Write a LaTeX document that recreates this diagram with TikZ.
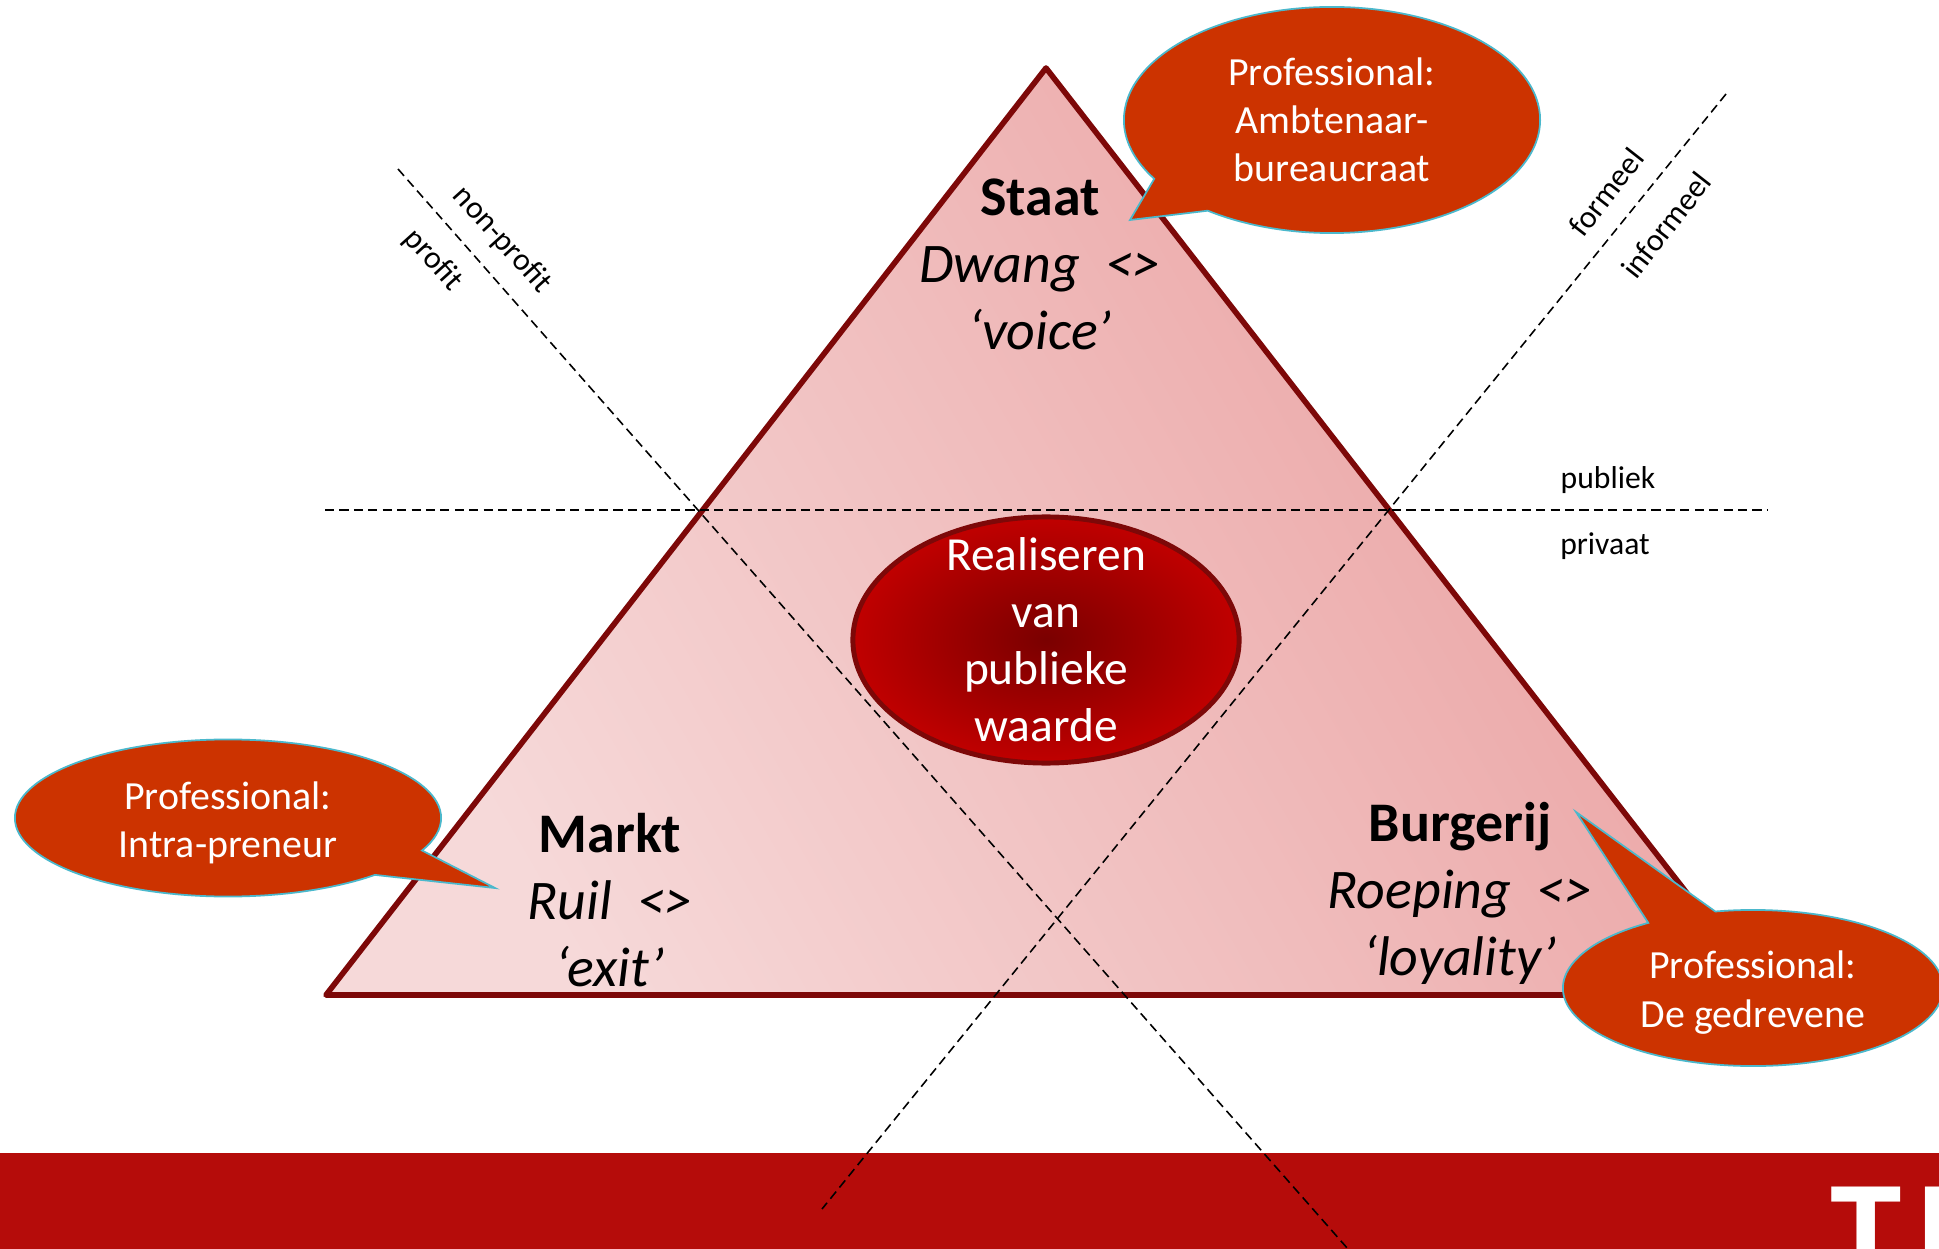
\documentclass[tikz,border=0pt]{standalone}
\usepackage{fontspec}
\setmainfont{Carlito}
\usetikzlibrary{positioning, shapes.callouts, shapes.geometric}
\definecolor{darkred}{HTML}{7D0808}
\definecolor{barred}{HTML}{B50C0A}
\definecolor{calloutred}{HTML}{CC3300}
\definecolor{calloutline}{HTML}{4BB8CC}
\tikzset{node distance=0.67cm,
  every edge/.style={draw,dashed,dash pattern=on 2.6pt off 1.5pt,line width=0.45pt,black},
  sector/.style={inner sep=0pt,text height=12pt,text depth=4pt,font=\fontsize{15.9}{18}\selectfont\bfseries},
  relation/.style={inner sep=0pt,text height=12pt,text depth=4pt,font=\fontsize{15.9}{18}\selectfont\itshape},
  professional/.style={ellipse callout,callout pointer arc=22,draw=calloutline,line width=0.5pt,fill=calloutred,text=white,align=center,inner sep=0pt,font=\fontsize{11.35}{13.7}\selectfont},
  axislabel/.style={inner sep=0pt,font=\fontsize{9}{11}\selectfont}}

\begin{document}
\begin{tikzpicture}[x=0.01cm,y=-0.01cm]
    \useasboundingbox (0,0) rectangle (1939,1249);
    % triangle
    \coordinate (t1) at (1046,68);
    \coordinate (t2) at (1766,995);
    \coordinate (t3) at (326,995);
    \definecolor{lightpink}{HTML}{F6D9D9}
    \definecolor{darkpink}{HTML}{EAA0A0}
    \shade[left color=lightpink, right color=darkpink, shading angle=120] (t1) -- (t2) -- (t3) -- cycle;
    \draw[darkred, line width=1.6pt, line join=round] (t1) -- (t2) -- (t3) -- cycle;
    % bar
    \fill[barred] (0,1153) rectangle (1939,1249);
    \node[anchor=north west, inner sep=0pt, text=white, font=\fontsize{41}{48}\selectfont\bfseries] (logo) at (1830,1186) {T\hspace{3.9pt}I};
    % axes
    \coordinate (h1) at (325,510);
    \coordinate (h2) at (1767,510);
    \coordinate (a1) at (398,169);
    \coordinate (a2) at (1348,1249);
    \coordinate (b1) at (1726,94);
    \coordinate (b2) at (822,1209);
    \draw (a1) edge (a2)
          (b1) edge (b2);
    % value
    \definecolor{valueinner}{HTML}{7A0000}
    \definecolor{valueouter}{HTML}{C00000}
    \node[ellipse, draw=darkred, line width=1.4pt, inner sep=0pt, minimum width=3.86cm, minimum height=2.46cm, inner color=valueinner, outer color=valueouter] (value) at (1046,640) {};
    \node[inner sep=0pt, text=white, align=center, font=\fontsize{13.5}{16.2}\selectfont] (valuetext) at (1046,640) {Realiseren\\van\\publieke\\waarde};
    \draw (h1) edge (h2);
    % sectors
    \node[sector] (staat) at (1040,201) {Staat};
    \node[relation, below of=staat] (dwang) {Dwang\ \ <>};
    \node[relation, below of=dwang] (voice) {‘voice’};
    \node[sector] (markt) at (610,838) {Markt};
    \node[relation, below of=markt] (ruil) {Ruil\ \ <>};
    \node[relation, below of=ruil] (exit) {‘exit’};
    \node[sector] (burgerij) at (1460,827) {Burgerij};
    \node[relation, below of=burgerij] (roeping) {Roeping\ \ <>};
    \node[relation, below of=roeping] (loyality) {‘loyality’};
    % callouts
    \node[professional, minimum width=4.16cm, minimum height=2.26cm, callout absolute pointer={(1130,220)}] (ambtenaar) at (1332,120) {Professional:\\Ambtenaar-\\bureaucraat};
    \node[professional, minimum width=4.26cm, minimum height=1.57cm, callout absolute pointer={(495,888)}] (intra) at (228,818) {\rule{0pt}{10.5pt}Professional:\\Intra-preneur};
    \node[professional, minimum width=3.8cm, minimum height=1.56cm, callout absolute pointer={(1576,812)}] (gedreven) at (1753,988) {\rule{0pt}{10.5pt}Professional:\\De gedrevene};
    % labels
    \node[axislabel, rotate=-48] (nonprofit) at (502,240) {non-profit};
    \node[axislabel, rotate=-48] (profit) at (433,260) {profit};
    \node[axislabel, rotate=52] (formeel) at (1606,192) {formeel};
    \node[axislabel, rotate=52] (informeel) at (1666,225) {informeel};
    \node[axislabel] (publiek) at (1608,480) {publiek};
    \node[axislabel] (privaat) at (1605,546) {privaat};
\end{tikzpicture}
\end{document}
